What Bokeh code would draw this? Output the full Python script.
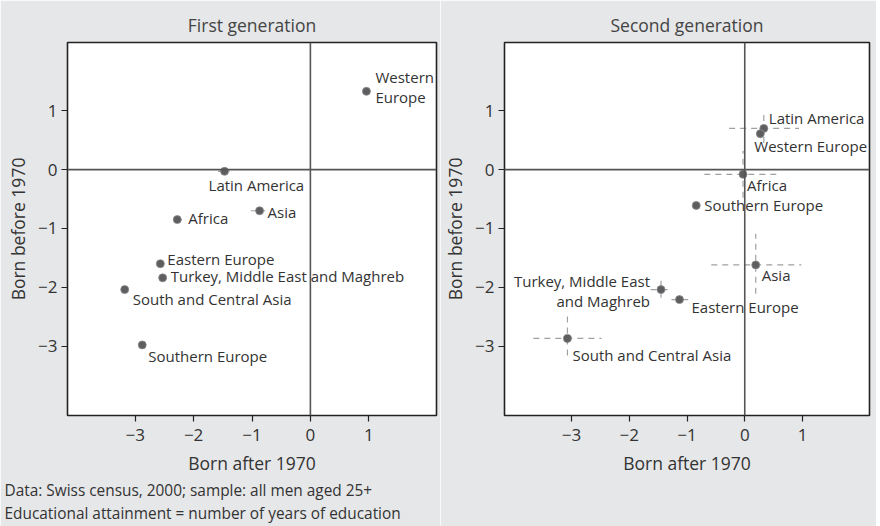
from bokeh.plotting import figure
from bokeh.layouts import row
from bokeh.models import Span, Title, ColumnDataSource, FixedTicker, Range1d
from bokeh.core.properties import value
from bokeh.embed import file_html
from bokeh.resources import INLINE

FONT = "Open Sans"
BG = "#e6e7e8"

# ---- data: first generation ----
g1_names = ["Western\nEurope", "Latin America", "Africa", "Asia", "Eastern Europe",
            "Turkey, Middle East and Maghreb", "South and Central Asia", "Southern Europe"]
g1_x = [0.96, -1.47, -2.28, -0.87, -2.57, -2.53, -3.18, -2.88]
g1_y = [1.33, -0.03, -0.85, -0.70, -1.60, -1.84, -2.04, -2.98]
g1_xlo = [0.93, -1.58, -2.30, -1.02, -2.59, -2.56, -3.24, -2.91]
g1_xhi = [0.99, -1.38, -2.13, -0.77, -2.55, -2.46, -3.10, -2.85]
g1_ylo = [1.31, -0.05, -0.87, -0.72, -1.62, -1.86, -2.08, -3.00]
g1_yhi = [1.35, -0.01, -0.83, -0.68, -1.58, -1.82, -2.00, -2.96]

# ---- data: second generation ----
g2_names = ["Latin America", "Western Europe", "Africa", "Southern Europe", "Asia",
            "Turkey, Middle East\nand Maghreb", "Eastern Europe", "South and Central Asia"]
g2_x = [0.33, 0.27, -0.03, -0.84, 0.19, -1.45, -1.13, -3.07]
g2_y = [0.70, 0.61, -0.08, -0.61, -1.62, -2.04, -2.21, -2.87]
g2_xlo = [-0.27, 0.20, -0.70, -0.88, -0.58, -1.63, -1.27, -3.66]
g2_xhi = [0.94, 0.34, 0.63, -0.80, 0.98, -1.28, -0.98, -2.48]
g2_ylo = [0.45, 0.55, -0.48, -0.65, -2.11, -2.18, -2.24, -3.16]
g2_yhi = [0.95, 0.67, 0.32, -0.57, -1.09, -1.89, -2.18, -2.48]

ticks = [-3, -2, -1, 0, 1]
footer_lines = ["Data: Swiss census, 2000; sample: all men aged 25+",
                "Educational attainment = number of years of education"]

# label placement (screen px; dy positive = down)
g1_dx = [9, -16, 11, 8, 7, 8, 8, 6]
g1_dy = [-4, 14, -2, 1, -5, -2, 9, 11]
g1_align = ["left"] * 8
g2_dx = [5, -6, 4, 8, 6, -11, 12, 5]
g2_dy = [-10, 12, 11, 0, 10, 1, 7, 17]
g2_align = ["left", "left", "left", "left", "left", "right", "left", "left"]


def make_panel(title, names, xs, ys, xlo, xhi, ylo, yhi, dx, dy, align,
               width, bl, br, footer=False):
    p = figure(width=width, height=526, output_backend="svg", toolbar_location=None,
               x_range=Range1d(-4.16, 2.16), y_range=Range1d(-4.18, 2.16),
               min_border_left=bl, min_border_right=br, min_border_top=42,
               min_border_bottom=111, background_fill_color="white",
               border_fill_color=BG, outline_line_color="#222222", outline_line_width=1.6)
    p.title.text = title
    p.title.align = "center"
    p.title.text_font = FONT
    p.title.text_font_size = "17.5px"
    p.title.text_font_style = "normal"
    p.title.text_color = "#444444"
    p.title.standoff = 12
    p.grid.visible = False
    for ax in (p.xaxis[0], p.yaxis[0]):
        ax.ticker = FixedTicker(ticks=ticks)
        ax.axis_line_color = None
        ax.major_tick_out = 6
        ax.major_tick_in = 0
        ax.major_tick_line_color = "#222222"
        ax.major_tick_line_width = 1.2
        ax.minor_tick_line_color = None
        ax.major_label_text_font = FONT
        ax.major_label_text_font_size = "17px"
        ax.major_label_text_color = "#333333"
        ax.axis_label_text_font = FONT
        ax.axis_label_text_font_size = "17.5px"
        ax.axis_label_text_font_style = "normal"
        ax.axis_label_text_color = "#333333"
    p.xaxis[0].axis_label = "Born after 1970"
    p.yaxis[0].axis_label = "Born before 1970"
    p.xaxis[0].major_label_overrides = {t: str(t).replace("-", "\u2212") for t in ticks}
    p.yaxis[0].major_label_overrides = {t: str(t).replace("-", "\u2212") for t in ticks}
    p.yaxis[0].major_label_orientation = "horizontal"
    p.xaxis[0].major_label_standoff = 7
    p.yaxis[0].major_label_standoff = 4
    p.xaxis[0].axis_label_standoff = 7
    p.yaxis[0].axis_label_standoff = 5

    p.add_layout(Span(location=0, dimension="height", line_color="#555555", line_width=1.6))
    p.add_layout(Span(location=0, dimension="width", line_color="#555555", line_width=1.6))

    src = ColumnDataSource(dict(x=xs, y=ys, xlo=xlo, xhi=xhi, ylo=ylo, yhi=yhi,
                                name=names, dx=dx, dy=dy, align=align))
    p.segment(x0="xlo", y0="y", x1="xhi", y1="y", source=src, line_color="#a0a0a0",
              line_width=1.2, line_dash="6 5")
    p.segment(x0="x", y0="ylo", x1="x", y1="yhi", source=src, line_color="#a0a0a0",
              line_width=1.2, line_dash="6 5")
    p.scatter(x="x", y="y", source=src, size=8, fill_color="#5e5e60",
              line_color="#8a8a8c", line_width=0.8)
    p.text(x="x", y="y", text="name", source=src, x_offset="dx", y_offset="dy",
           text_align="align", text_baseline="middle", text_font=value(FONT),
           text_font_size="15px", text_color="#333333", text_line_height=1.0)
    if footer:
        t = Title(text="\n".join(footer_lines), align="left", text_font=FONT,
                  text_font_size="15.4px", text_font_style="normal", text_color="#333333",
                  offset=-63, standoff=0, text_line_height=1.12)
        p.add_layout(t, "below")
    return p


p1 = make_panel("First generation", g1_names, g1_x, g1_y, g1_xlo, g1_xhi, g1_ylo, g1_yhi,
                g1_dx, g1_dy, g1_align, 440, 67, 4, footer=True)
p2 = make_panel("Second generation", g2_names, g2_x, g2_y, g2_xlo, g2_xhi, g2_ylo, g2_yhi,
                g2_dx, g2_dy, g2_align, 436, 60, 7)

layout = row(p1, p2, spacing=0)
open("out.html", "w").write(file_html(layout, INLINE))
